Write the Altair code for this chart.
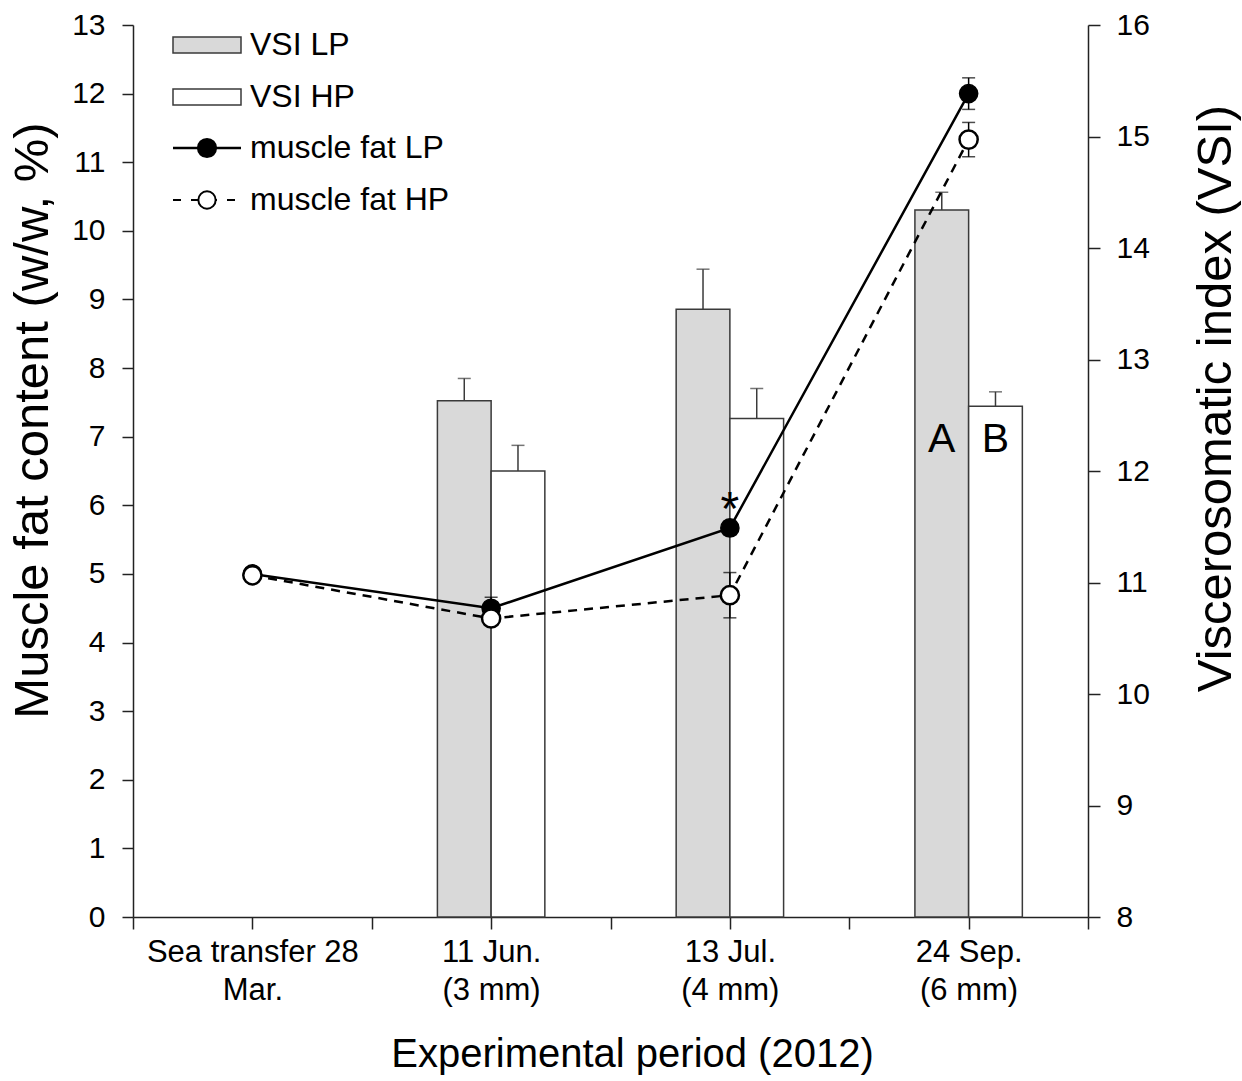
import json
import altair as alt
import pandas as pd

# ---------------- data ----------------
positions = [1, 3, 5, 7]
period_labels = [["Sea transfer 28", "Mar."], ["11 Jun.", "(3 mm)"],
                 ["13 Jul.", "(4 mm)"], ["24 Sep.", "(6 mm)"]]

# VSI (right axis) bars: 11 Jun, 13 Jul, 24 Sep
vsi_pos = [3, 5, 7]
vsi_lp = [12.63, 13.45, 14.34]
vsi_lp_err = [0.20, 0.36, 0.16]
vsi_hp = [12.00, 12.47, 12.58]
vsi_hp_err = [0.23, 0.27, 0.13]

# muscle fat (left axis) lines
fat_lp = [5.00, 4.50, 5.67, 12.00]
fat_lp_err = [0.00, 0.16, 0.10, 0.23]
fat_hp = [4.98, 4.35, 4.69, 11.33]
fat_hp_err = [0.00, 0.08, 0.33, 0.25]

letters = ["A", "B"]
letter_vsi = 12.28
star_text = "*"

legend_names = ["VSI LP", "VSI HP", "muscle fat LP", "muscle fat HP"]

# ---------------- style ----------------
FONT = "Liberation Sans"
BAR_W = 0.45
GRAY = "#d9d9d9"
EDGE = "#3a3a3a"

rows = []
for p, v, e in zip(vsi_pos, vsi_lp, vsi_lp_err):
    rows.append(dict(grp="LP", x1=p - BAR_W, x2=p, xc=p - BAR_W / 2, vsi=v, top=v + e, base=8))
for p, v, e in zip(vsi_pos, vsi_hp, vsi_hp_err):
    rows.append(dict(grp="HP", x1=p, x2=p + BAR_W, xc=p + BAR_W / 2, vsi=v, top=v + e, base=8))
bars = pd.DataFrame(rows)

lp = pd.DataFrame(dict(pos=positions, fat=fat_lp, lo=[a - b for a, b in zip(fat_lp, fat_lp_err)],
                       hi=[a + b for a, b in zip(fat_lp, fat_lp_err)]))
hp = pd.DataFrame(dict(pos=positions, fat=fat_hp, lo=[a - b for a, b in zip(fat_hp, fat_hp_err)],
                       hi=[a + b for a, b in zip(fat_hp, fat_hp_err)]))
lp_err = lp[lp.hi > lp.lo]
hp_err = hp[hp.hi > hp.lo]

label_expr = " : ".join(f"datum.value == {p} ? {json.dumps(l)}" for p, l in zip(positions, period_labels)) + " : ''"

x_scale = alt.Scale(domain=[0, 8], nice=False, zero=False)
x_axis = alt.Axis(values=list(range(9)), labelExpr=label_expr, labelFontSize=31, labelLineHeight=38,
                  labelPadding=8, tickSize=12, labelOverlap=False, labelFlush=False, labelLimit=0,
                  titleFontSize=40, titleFontWeight="normal", titleX=499, titleY=149,
                  titleBaseline="alphabetic", titleAlign="center")
X_TITLE = "Experimental  period  (2012)"


def X(field):
    return alt.X(f"{field}:Q", scale=x_scale, axis=x_axis, title=X_TITLE)


def X2(field):
    return alt.X2(f"{field}")


yl_scale = alt.Scale(domain=[0, 13], nice=False, zero=False)
yl_axis = alt.Axis(values=list(range(14)), labelFontSize=30, tickSize=11, labelPadding=17,
                   orient="left", titleFontSize=49, titleFontWeight="normal", titleAngle=270,
                   titleX=-86, titleY=395, titleBaseline="alphabetic", titleAlign="center")
YL_TITLE = "Muscle fat content  (w/w, %)"


def YL(field):
    return alt.Y(f"{field}:Q", scale=yl_scale, axis=yl_axis, title=YL_TITLE)


yr_scale = alt.Scale(domain=[8, 16], nice=False, zero=False)
yr_axis = alt.Axis(values=list(range(8, 17)), labelFontSize=30, tickSize=12, labelPadding=16,
                   orient="right", titleFontSize=49, titleFontWeight="normal", titleAngle=270,
                   titleX=142, titleY=373, titleBaseline="alphabetic", titleAlign="center")
YR_TITLE = "Viscerosomatic index  (VSI)"


def YR(field):
    return alt.Y(f"{field}:Q", scale=yr_scale, axis=yr_axis, title=YR_TITLE)


# ---------------- right group: VSI bars ----------------
bar_base = alt.Chart(bars)
rects = bar_base.mark_rect(stroke=EDGE, strokeWidth=1.5).encode(
    x=X("x1"), x2=X2("x2"), y=YR("vsi"), y2=alt.Y2("base"),
    fill=alt.Fill("grp:N", scale=alt.Scale(domain=["LP", "HP"], range=[GRAY, "white"]), legend=None),
)
bar_err = bar_base.mark_rule(color=EDGE, strokeWidth=1.5).encode(
    x=X("xc"), y=YR("vsi"), y2=alt.Y2("top"))
bar_cap = bar_base.mark_tick(orient="horizontal", size=13, thickness=1.5, color=EDGE).encode(
    x=X("xc"), y=YR("top"))
letter_df = pd.DataFrame(dict(t=letters, xc=[7 - BAR_W / 2, 7 + BAR_W / 2], vsi=[letter_vsi] * 2))
letter_txt = alt.Chart(letter_df).mark_text(font=FONT, fontSize=41, baseline="middle", align="center",
                                            color="black").encode(
    x=X("xc"), y=YR("vsi"), text="t:N")

right_group = alt.layer(rects, bar_err, bar_cap, letter_txt)

# ---------------- left group: muscle fat lines ----------------
lp_line = alt.Chart(lp).mark_line(color="black", strokeWidth=2.5).encode(x=X("pos"), y=YL("fat"))
hp_line = alt.Chart(hp).mark_line(color="black", strokeWidth=2.5, strokeDash=[9, 7]).encode(
    x=X("pos"), y=YL("fat"))


def err_layers(df):
    r = alt.Chart(df).mark_rule(color="black", strokeWidth=1.5).encode(x=X("pos"), y=YL("lo"), y2=alt.Y2("hi"))
    c1 = alt.Chart(df).mark_tick(orient="horizontal", size=13, thickness=1.5, color="black").encode(
        x=X("pos"), y=YL("lo"))
    c2 = alt.Chart(df).mark_tick(orient="horizontal", size=13, thickness=1.5, color="black").encode(
        x=X("pos"), y=YL("hi"))
    return [r, c1, c2]


lp_pts = alt.Chart(lp).mark_point(shape="circle", size=330, filled=True, fill="black", stroke="black",
                                  strokeWidth=1.5, opacity=1).encode(x=X("pos"), y=YL("fat"))
hp_pts = alt.Chart(hp).mark_point(shape="circle", size=330, filled=True, fill="white", stroke="black",
                                  strokeWidth=2.5, opacity=1).encode(x=X("pos"), y=YL("fat"))

star_df = pd.DataFrame(dict(t=[star_text], pos=[positions[2]], fat=[fat_lp[2]]))
star = alt.Chart(star_df).mark_text(font=FONT, fontSize=48, baseline="alphabetic", align="center",
                                    color="black", dy=-3).encode(x=X("pos"), y=YL("fat"), text="t:N")

# ---------------- legend (drawn by hand) ----------------
one = pd.DataFrame({"k": [0]})
LX0, LX1, LTX = 40, 108, 117
LY = [20, 72, 123, 175]
leg = []
leg.append(alt.Chart(one).mark_rect(fill=GRAY, stroke=EDGE, strokeWidth=1.5).encode(
    x=alt.value(LX0), x2=alt.value(LX1), y=alt.value(LY[0] - 8), y2=alt.value(LY[0] + 8)))
leg.append(alt.Chart(one).mark_rect(fill="white", stroke=EDGE, strokeWidth=1.5).encode(
    x=alt.value(LX0), x2=alt.value(LX1), y=alt.value(LY[1] - 8), y2=alt.value(LY[1] + 8)))
leg.append(alt.Chart(one).mark_rule(color="black", strokeWidth=2.5).encode(
    x=alt.value(LX0), x2=alt.value(LX1), y=alt.value(LY[2])))
leg.append(alt.Chart(one).mark_point(shape="circle", size=330, filled=True, fill="black", stroke="black",
                                     opacity=1).encode(x=alt.value((LX0 + LX1) / 2), y=alt.value(LY[2])))
leg.append(alt.Chart(one).mark_rule(color="black", strokeWidth=2, strokeDash=[8, 10]).encode(
    x=alt.value(LX0), x2=alt.value(LX1), y=alt.value(LY[3])))
leg.append(alt.Chart(one).mark_point(shape="circle", size=300, filled=True, fill="white", stroke="black",
                                     strokeWidth=2, opacity=1).encode(x=alt.value((LX0 + LX1) / 2), y=alt.value(LY[3])))
for name, yy in zip(legend_names, LY):
    leg.append(alt.Chart(pd.DataFrame({"t": [name]})).mark_text(
        font=FONT, fontSize=32, align="left", baseline="middle", color="black").encode(
        x=alt.value(LTX), y=alt.value(yy), text="t:N"))

left_group = alt.layer(lp_line, hp_line, *err_layers(lp_err), *err_layers(hp_err), lp_pts, hp_pts, star, *leg)

chart = alt.layer(right_group, left_group).resolve_scale(y="independent").properties(
    width=955, height=892,
    autosize=alt.AutoSizeParams(type="none"),
    padding={"left": 133, "top": 25, "right": 154, "bottom": 164},
    background="white",
).configure_view(stroke=None).configure_axis(
    labelFont=FONT, titleFont=FONT, labelColor="black", titleColor="black",
    domainColor="#222", tickColor="#222", domainWidth=1.5, tickWidth=1.5, grid=False,
)

chart.save("out.html", embed_options={"renderer": "svg", "actions": False})
